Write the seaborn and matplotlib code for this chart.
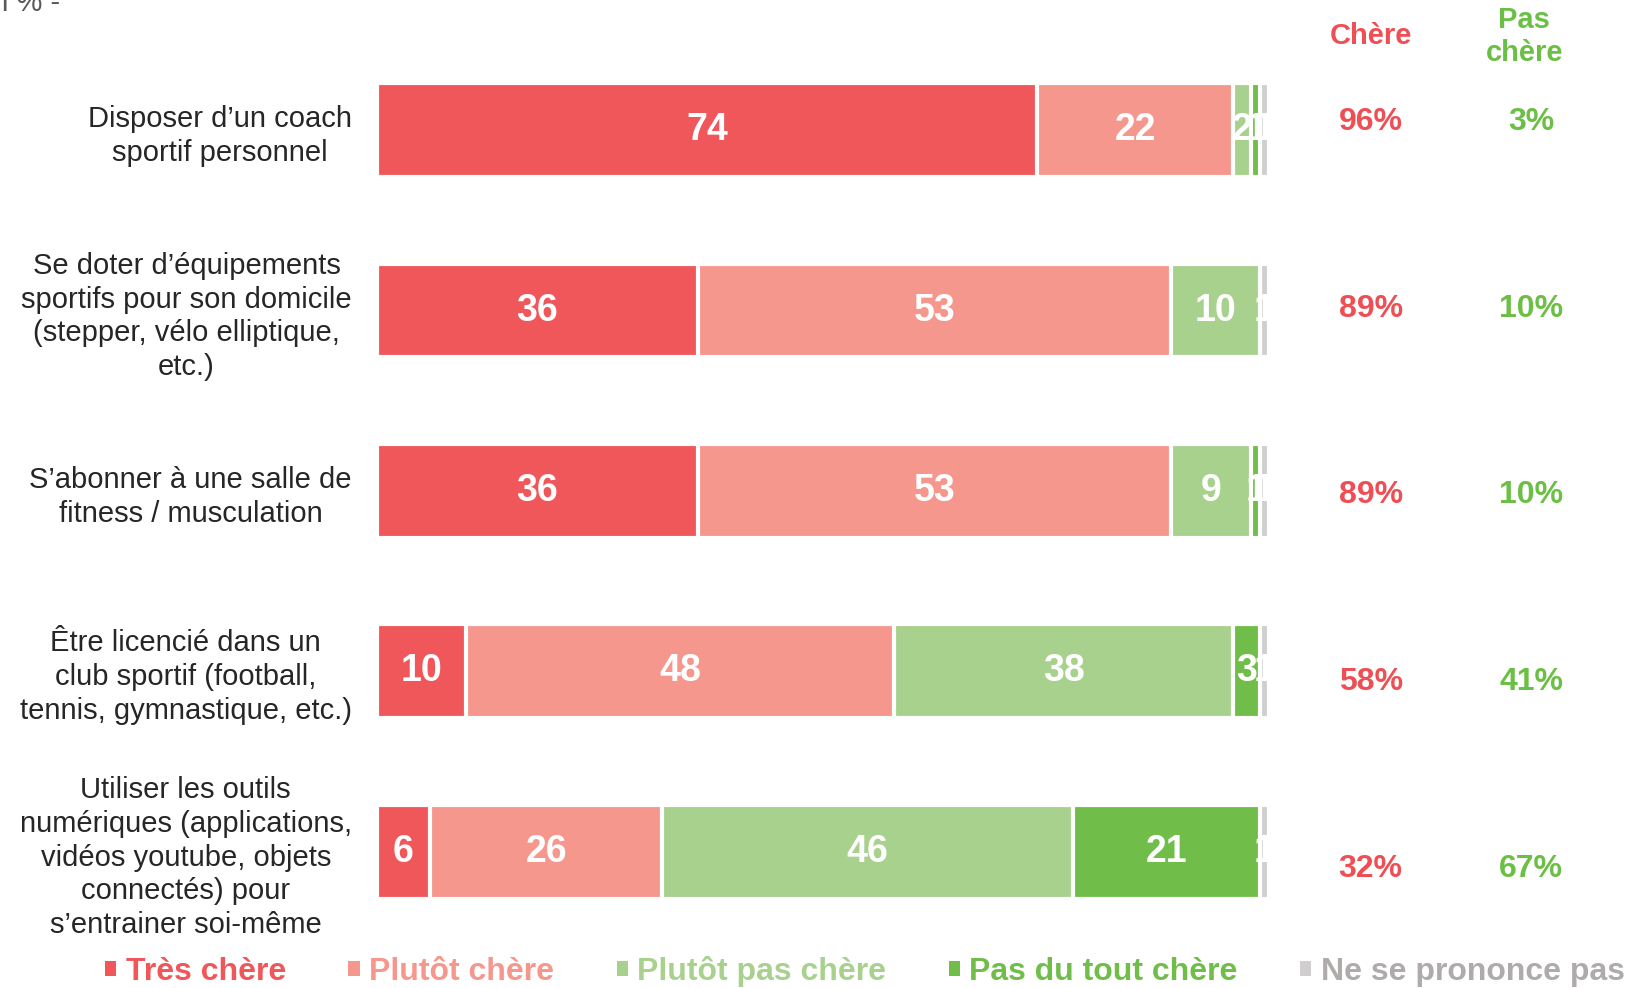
import numpy as np
import pandas as pd
import matplotlib.pyplot as plt
from matplotlib.patches import Patch
import seaborn as sns

# --- Données ---
categories = [
    "Disposer d’un coach\nsportif personnel",
    "Se doter d’équipements\nsportifs pour son domicile\n(stepper, vélo elliptique,\netc.)",
    "S’abonner à une salle de\nfitness / musculation",
    "Être licencié dans un\nclub sportif (football,\ntennis, gymnastique, etc.)",
    "Utiliser les outils\nnumériques (applications,\nvidéos youtube, objets\nconnectés) pour\ns’entrainer soi-même",
]
series_names = ["Très chère", "Plutôt chère", "Plutôt pas chère", "Pas du tout chère", "Ne se prononce pas"]
tres_chere = [74, 36, 36, 10, 6]
plutot_chere = [22, 53, 53, 48, 26]
plutot_pas_chere = [2, 10, 9, 38, 46]
pas_du_tout_chere = [1, 0, 1, 3, 21]
nsp = [1, 1, 1, 1, 1]
total_chere = [96, 89, 89, 58, 32]
total_pas_chere = [3, 10, 10, 41, 67]

colors = ["#F0575B", "#F5978D", "#A9D18E", "#70BD4A", "#D0CECE"]
legend_text_colors = ["#F0575B", "#F5978D", "#A9D18E", "#70BD4A", "#AFABAB"]
red_txt = "#EE4F55"
green_txt = "#6CBF45"

# --- Style ---
sns.set_style("white")
plt.rcParams["font.family"] = ["Liberation Sans", "DejaVu Sans"]

fig = plt.figure(figsize=(16.29, 9.88), dpi=100)
ax = fig.add_axes([0.2313, 0.0466, 0.5477, 0.913])

values = np.array([tres_chere, plutot_chere, plutot_pas_chere, pas_du_tout_chere, nsp], dtype=float)
cum = values.cumsum(axis=0)

# barres empilées : on trace les cumuls du plus grand au plus petit
for j in range(len(series_names) - 1, -1, -1):
    df = pd.DataFrame({"cat": categories, "val": cum[j]})
    sns.barplot(data=df, x="val", y="cat", orient="h", color=colors[j], saturation=1,
                width=0.52, edgecolor="white", linewidth=3, ax=ax)

# étiquettes dans les barres
for j in range(len(series_names)):
    for i in range(len(categories)):
        v = values[j, i]
        if v <= 0:
            continue
        xc = cum[j, i] - v / 2
        ax.text(xc, i, f"{int(v)}", ha="center", va="center", color="white",
                fontsize=27, fontweight="bold")

ax.set_xlim(0, 100)
ax.set_ylim(4.5, -0.5)
ax.set_xlabel("")
ax.set_ylabel("")
ax.set_xticks([])
ax.tick_params(axis="y", length=0, pad=18, labelsize=21, labelcolor="#262626")
for lbl in ax.get_yticklabels():
    lbl.set_multialignment("center")
    lbl.set_linespacing(1.26)
sns.despine(ax=ax, left=True, bottom=True)

# colonnes de totaux
ax.text(111.4, -0.52, "Chère", ha="center", va="center", color=red_txt,
        fontsize=21, fontweight="bold", clip_on=False)
ax.text(128.6, -0.52, "Pas\nchère", ha="center", va="center", color=green_txt,
        fontsize=21, fontweight="bold", clip_on=False, linespacing=1.25)
for i in range(len(categories)):
    yy = -0.045 + i * 1.035
    ax.text(111.4, yy, f"{total_chere[i]}%", ha="center", va="center", color=red_txt,
            fontsize=23, fontweight="bold", clip_on=False)
    ax.text(129.4, yy, f"{total_pas_chere[i]}%", ha="center", va="center", color=green_txt,
            fontsize=23, fontweight="bold", clip_on=False)

# sous-titre (coupé en haut à gauche)
fig.text(0.037, 0.997, "- En % -", ha="right", va="center", color="#595959", fontsize=21)

# légende
handles = [Patch(facecolor=c, edgecolor="none") for c in colors]
leg = fig.legend(handles, series_names, loc="center", bbox_to_anchor=(0.531, 0.017), ncol=5,
                 frameon=False, handlelength=0.35, handleheight=0.35,
                 handletextpad=0.3, columnspacing=1.95, labelcolor=legend_text_colors,
                 prop={"weight": "bold", "size": 23})

fig.savefig("out.png", dpi=100)
